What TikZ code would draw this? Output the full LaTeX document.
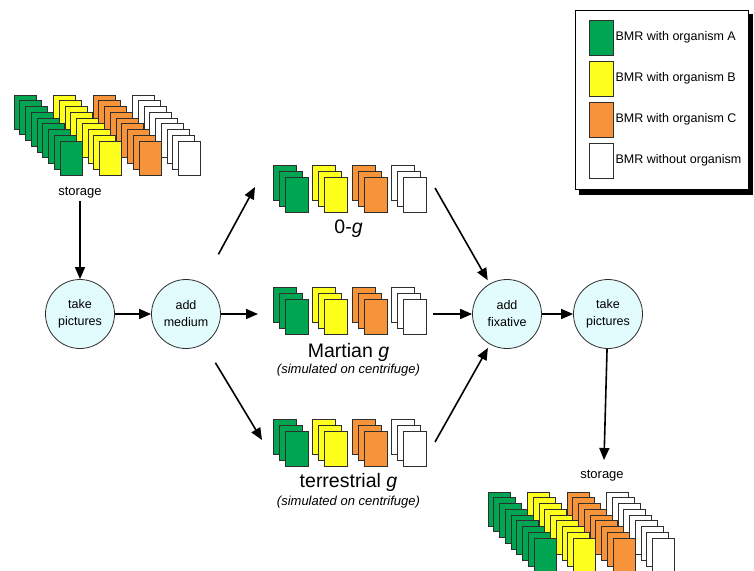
\documentclass[tikz,border=0pt]{standalone}
\usepackage{fontspec}
\setmainfont{Liberation Sans}
\usepackage{tikz}
\usetikzlibrary{positioning,arrows.meta,calc}
\definecolor{bmrgreen}{HTML}{00A551}
\definecolor{bmryellow}{HTML}{FFFF1E}
\definecolor{bmrorange}{HTML}{F7943A}
\definecolor{bmrwhite}{HTML}{FFFFFF}
\definecolor{circfill}{HTML}{E2FCFD}
\definecolor{edgegray}{HTML}{2E2E2E}

% pile of cards: x, y of back card, cards per colour, offset, width, height
\newcommand{\cardpile}[6]{%
  \foreach \k in {1,...,#3} {
    \foreach \c [count=\i from 0] in {bmrgreen,bmryellow,bmrorange,bmrwhite} {
      \draw[card, fill=\c] ({#1+\i*39.5+(\k-1)*#4},{#2+(\k-1)*#4}) rectangle ++(#5,#6);
    }
  }%
}

\begin{document}
\begin{tikzpicture}[x=1pt, y=-1pt,
   card/.style={draw=edgegray, line width=0.8pt},
   proc/.style={circle, draw=edgegray, line width=0.8pt, fill=circfill,
                minimum size=69pt, inner sep=0pt, align=center,
                font=\fontsize{12.5}{17}\selectfont},
   pile/.style={inner sep=0pt, minimum width=153pt, minimum height=47pt},
   biglabel/.style={inner sep=0pt, font=\fontsize{19.5}{22}\selectfont},
   sublabel/.style={inner sep=0pt, font=\itshape\fontsize{13}{15}\selectfont},
   smalllabel/.style={inner sep=2pt, font=\fontsize{13}{15}\selectfont},
   swatch/.style={draw=edgegray, line width=0.8pt, minimum width=24pt,
                  minimum height=35pt, inner sep=0pt},
   legtext/.style={inner sep=0pt, font=\fontsize{12.5}{15}\selectfont},
   flow/.style={->, line width=1.6pt},
   >={Triangle[length=12pt,width=10pt]}]
  \useasboundingbox (0,0) rectangle (754,570);
  \clip (0,0) rectangle (754,570);

  % card piles
  \cardpile{14}{95}{9}{5.75}{22}{34}
  \cardpile{273}{165}{3}{6}{23}{35}
  \cardpile{273}{287}{3}{6}{23}{35}
  \cardpile{273}{419}{3}{6}{23}{35}
  \cardpile{488}{492}{9}{5.75}{22}{34}

  \node[pile] (zg) at (348.5,188.5) {};
  \node[pile] (mg) at (348.5,311) {};
  \node[pile] (tg) at (348.5,442.5) {};

  \node[smalllabel] (st1) at (80,193) {storage};
  \node[smalllabel] (st2) at (602,476) {storage};
  \node[biglabel, below=7pt of zg] (zglab) {0-\textit{g}};
  \node[biglabel, below=8pt of mg] (mglab) {Martian \textit{g}};
  \node[sublabel, below=3pt of mglab] (mgsub) {(simulated on centrifuge)};
  \node[biglabel, below=7pt of tg] (tglab) {terrestrial \textit{g}};
  \node[sublabel, below=4pt of tglab] (tgsub) {(simulated on centrifuge)};

  % process steps
  \node[proc] (tp1) at (80,314) {take\\pictures};
  \node[proc] (med) at (186,314) {add\\medium};
  \node[proc] (fix) at (507,314) {add\\fixative};
  \node[proc] (tp2) at (608,314) {take\\pictures};

  \coordinate (zg-in) at (255,187);
  \coordinate (mg-in) at (258,314);
  \coordinate (tg-in) at (262,440);
  \coordinate (zg-out) at (435,188);
  \coordinate (mg-out) at (433,314);
  \coordinate (tg-out) at (435,442);
  \coordinate (st2-in) at (604,460);

  \draw[flow] (st1) -- (tp1);
  \draw[flow] (tp1) -- (med);
  \draw[flow, shorten <=33pt] (med) -- (zg-in);
  \draw[flow] (med) -- (mg-in);
  \draw[flow, shorten <=22pt] (med) -- (tg-in);
  \draw[flow, shorten >=4pt] (zg-out) -- (fix);
  \draw[flow] (mg-out) -- (fix);
  \draw[flow, shorten >=4pt] (tg-out) -- (fix);
  \draw[flow] (fix) -- (tp2);
  \draw[flow] (tp2) -- (st2-in);

  % legend
  \draw[fill=black] (579,14) rectangle (752,194);
  \draw[fill=white, line width=0.8pt] (575,10) rectangle (748,189);
  \foreach \c/\lbl [count=\i from 0] in {bmrgreen/BMR with organism A,
      bmryellow/BMR with organism B, bmrorange/BMR with organism C,
      bmrwhite/BMR without organism} {
    \node[swatch, fill=\c] (sw\i) at (601,{37.5+\i*41}) {};
    \node[legtext, right=2pt of sw\i] (lt\i) {\lbl};
  }
\end{tikzpicture}
\end{document}
